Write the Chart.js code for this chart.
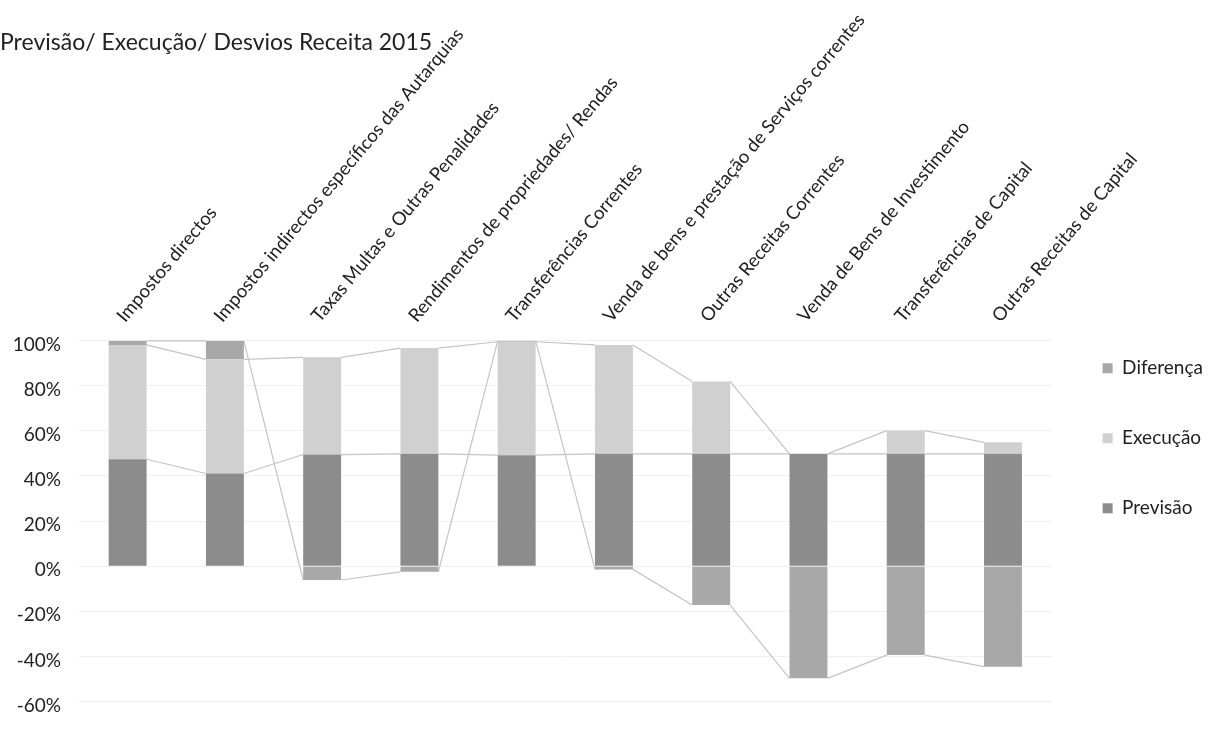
<!DOCTYPE html>
<html>
<head>
<meta charset="utf-8">
<script src="https://cdn.jsdelivr.net/npm/chart.js@4.4.1/dist/chart.umd.min.js"></script>
<style>
html, body { margin: 0; padding: 0; background: #fff; overflow: hidden; }
#wrap { width: 1213px; height: 731px; }
</style>
</head>
<body>
<div id="wrap"><canvas id="receita" width="1213" height="731"></canvas></div>
<script>
var titulo = 'Previsão/ Execução/ Desvios Receita 2015';
var categorias = [
    'Impostos directos',
    'Impostos indirectos específicos das Autarquias',
    'Taxas Multas e Outras Penalidades',
    'Rendimentos de propriedades/ Rendas',
    'Transferências Correntes',
    'Venda de bens e prestação de Serviços correntes',
    'Outras Receitas Correntes',
    'Venda de Bens de Investimento',
    'Transferências de Capital',
    'Outras Receitas de Capital'
];
// percentagens
var previsao  = [47.4, 41.1, 49.5, 49.8, 49.2, 49.8, 49.8, 49.8, 49.8, 49.8];
var execucao  = [50.7, 50.6, 43.1, 46.9, 50.3, 48.3, 32.1, 0, 10.3, 5.1];
var diferenca = [1.8, 8.2, -6.1, -2.5, 0.4, -1.4, -17.2, -49.7, -39.4, -44.5];
var yMin = -60, yMax = 100, yStep = 20;

Chart.defaults.font.family = 'Lato';
Chart.defaults.color = '#222';

// linhas de serie entre as barras (como no Excel)
var seriesLines = {
    id: 'seriesLines',
    beforeDatasetsDraw: function(chart) {
        var ctx = chart.ctx;
        ctx.save();
        ctx.strokeStyle = '#c4c4c4';
        ctx.lineWidth = 1.2;
        chart.data.datasets.forEach(function(ds, d) {
            var bars = chart.getDatasetMeta(d).data;
            for (var i = 0; i < bars.length - 1; i++) {
                var a = bars[i], b = bars[i + 1];
                ctx.beginPath();
                ctx.moveTo(a.x + a.width / 2, a.y);
                ctx.lineTo(b.x - b.width / 2, b.y);
                ctx.stroke();
            }
        });
        ctx.restore();
    }
};

// titulo desenhado por cima da zona das etiquetas (as etiquetas sobem ate ao topo)
var chartTitle = {
    id: 'chartTitle',
    afterDraw: function(chart) {
        var ctx = chart.ctx;
        ctx.save();
        ctx.font = '23px Lato';
        ctx.fillStyle = '#222';
        ctx.textAlign = 'left';
        ctx.textBaseline = 'middle';
        ctx.fillText(titulo, 0, 43);
        ctx.restore();
    }
};

var ctx = document.getElementById('receita').getContext('2d');
var chart = new Chart(ctx, {
    type: 'bar',
    data: {
        labels: categorias,
        datasets: [{
            label: 'Previsão',
            data: previsao,
            backgroundColor: '#8c8c8c'
        },
        {
            label: 'Execução',
            data: execucao,
            backgroundColor: '#d0d0d0'
        },
        {
            label: 'Diferença',
            data: diferenca,
            backgroundColor: '#a8a8a8'
        }]
    },
    options: {
        responsive: false,
        animation: false,
        layout: { padding: { left: 0, right: 0, top: 0, bottom: 12 } },
        datasets: {
            bar: { categoryPercentage: 1, barPercentage: 0.39, borderWidth: 0 }
        },
        plugins: {
            legend: {
                position: 'right',
                align: 'start',
                reverse: true,
                title: { display: true, text: '', padding: { top: 285, bottom: 0 }, font: { size: 19 } },
                labels: {
                    boxWidth: 10,
                    boxHeight: 10,
                    padding: 51,
                    font: { size: 19 },
                    color: '#222'
                }
            },
            tooltip: { enabled: false }
        },
        scales: {
            x: {
                position: 'top',
                stacked: true,
                grid: { display: false, drawTicks: false },
                border: { display: false },
                ticks: {
                    autoSkip: false,
                    minRotation: 50,
                    maxRotation: 50,
                    padding: 14,
                    labelOffset: 10,
                    font: { size: 18.5 },
                    color: '#222'
                },
                afterFit: function(scale) { scale.height = 340.6; }
            },
            y: {
                stacked: true,
                min: yMin,
                max: yMax,
                grid: { color: '#f0f0f0', drawTicks: false },
                border: { display: false },
                ticks: {
                    stepSize: yStep,
                    padding: 18,
                    labelOffset: 4,
                    font: { size: 19 },
                    color: '#222',
                    callback: function(v) { return v + '%'; }
                },
                afterFit: function(scale) { scale.width = 79; }
            }
        }
    },
    plugins: [seriesLines, chartTitle]
});
</script>
</body>
</html>
